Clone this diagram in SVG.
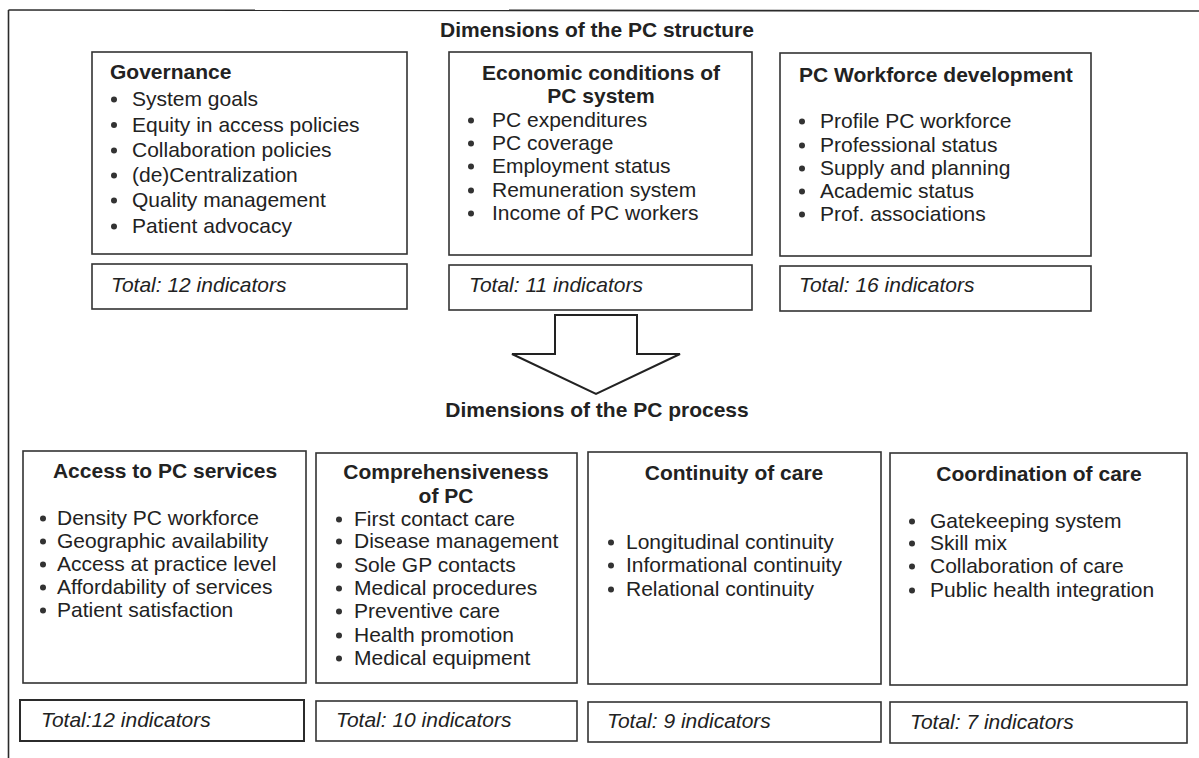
<svg xmlns="http://www.w3.org/2000/svg" width="1199" height="758" viewBox="0 0 1199 758">
<style>
.frame{fill:none;stroke:#2b2b2b;stroke-width:1.6}
.box{fill:#fff;stroke:#333;stroke-width:1.6}
.tbox{fill:#fff;stroke:#2b2b2b;stroke-width:2}
.t{font-family:"Liberation Sans",Arial,sans-serif;font-size:21px;fill:#222}
.b{font-weight:bold}
.i{font-style:italic}
.m{text-anchor:middle}
.dot{fill:#333}
.arrow{fill:#fff;stroke:#222;stroke-width:2;stroke-linejoin:miter}
</style>
<rect width="1199" height="758" fill="#fff"/>
<g id="frame">
<line class="frame" x1="8.5" y1="10" x2="1199" y2="11"/>
<line class="frame" x1="8.5" y1="10" x2="8.5" y2="758"/>
</g>
<text class="t b m" x="597" y="37">Dimensions of the PC structure</text>
<text class="t b m" x="597" y="417">Dimensions of the PC process</text>

<g id="governance">
<rect class="box" x="92" y="52" width="315" height="202"/>
<text class="t b" x="110" y="79">Governance</text>
<g class="dot"><circle cx="114" cy="99.5" r="3"/><circle cx="114" cy="125" r="3"/><circle cx="114" cy="150.5" r="3"/><circle cx="114" cy="175.5" r="3"/><circle cx="114" cy="200.5" r="3"/><circle cx="114" cy="226.5" r="3"/></g>
<text class="t" x="132" y="106">System goals</text>
<text class="t" x="132" y="131.5">Equity in access policies</text>
<text class="t" x="132" y="157">Collaboration policies</text>
<text class="t" x="132" y="182">(de)Centralization</text>
<text class="t" x="132" y="207">Quality management</text>
<text class="t" x="132" y="233">Patient advocacy</text>
</g>
<g id="governance-total">
<rect class="box" x="92" y="264" width="315" height="45"/>
<text class="t i" x="111" y="292">Total: 12 indicators</text>
</g>

<g id="economic">
<rect class="box" x="449" y="52" width="303" height="203"/>
<text class="t b m" x="601" y="80">Economic conditions of</text>
<text class="t b m" x="601" y="103">PC system</text>
<g class="dot"><circle cx="471" cy="120.5" r="3"/><circle cx="471" cy="143.5" r="3"/><circle cx="471" cy="166.5" r="3"/><circle cx="471" cy="190.5" r="3"/><circle cx="471" cy="213.5" r="3"/></g>
<text class="t" x="492" y="127">PC expenditures</text>
<text class="t" x="492" y="150">PC coverage</text>
<text class="t" x="492" y="173">Employment status</text>
<text class="t" x="492" y="197">Remuneration system</text>
<text class="t" x="492" y="220">Income of PC workers</text>
</g>
<g id="economic-total">
<rect class="box" x="449" y="265" width="303" height="45"/>
<text class="t i" x="469" y="292">Total: 11 indicators</text>
</g>

<g id="workforce">
<rect class="box" x="780" y="53" width="311" height="203"/>
<text class="t b" x="799" y="82">PC Workforce development</text>
<g class="dot"><circle cx="802" cy="121.5" r="3"/><circle cx="802" cy="145.5" r="3"/><circle cx="802" cy="168.5" r="3"/><circle cx="802" cy="191.5" r="3"/><circle cx="802" cy="214.5" r="3"/></g>
<text class="t" x="820" y="128">Profile PC workforce</text>
<text class="t" x="820" y="152">Professional status</text>
<text class="t" x="820" y="175">Supply and planning</text>
<text class="t" x="820" y="198">Academic status</text>
<text class="t" x="820" y="221">Prof. associations</text>
</g>
<g id="workforce-total">
<rect class="box" x="780" y="266" width="311" height="45"/>
<text class="t i" x="799" y="292">Total: 16 indicators</text>
</g>

<g id="connectors">
<polygon class="arrow" points="555,315 637,315 637,354 680,354 596,394 512,354 555,354"/>
</g>

<g id="access">
<rect class="box" x="23" y="451" width="283" height="232"/>
<text class="t b m" x="165" y="478">Access to PC services</text>
<g class="dot"><circle cx="43" cy="518.5" r="3"/><circle cx="43" cy="541.5" r="3"/><circle cx="43" cy="564.5" r="3"/><circle cx="43" cy="587.5" r="3"/><circle cx="43" cy="610.5" r="3"/></g>
<text class="t" x="57" y="525">Density PC workforce</text>
<text class="t" x="57" y="548">Geographic availability</text>
<text class="t" x="57" y="571">Access at practice level</text>
<text class="t" x="57" y="594">Affordability of services</text>
<text class="t" x="57" y="617">Patient satisfaction</text>
</g>
<g id="access-total">
<rect class="tbox" x="20" y="700" width="284" height="41"/>
<text class="t i" x="41" y="727">Total:12 indicators</text>
</g>

<g id="comprehensiveness">
<rect class="box" x="316" y="453" width="261" height="230"/>
<text class="t b m" x="446" y="479">Comprehensiveness</text>
<text class="t b m" x="446" y="503">of PC</text>
<g class="dot"><circle cx="339" cy="519.5" r="3"/><circle cx="339" cy="541.5" r="3"/><circle cx="339" cy="565.5" r="3"/><circle cx="339" cy="588.5" r="3"/><circle cx="339" cy="611.5" r="3"/><circle cx="339" cy="635.5" r="3"/><circle cx="339" cy="658.5" r="3"/></g>
<text class="t" x="354" y="526">First contact care</text>
<text class="t" x="354" y="548">Disease management</text>
<text class="t" x="354" y="572">Sole GP contacts</text>
<text class="t" x="354" y="595">Medical procedures</text>
<text class="t" x="354" y="618">Preventive care</text>
<text class="t" x="354" y="642">Health promotion</text>
<text class="t" x="354" y="665">Medical equipment</text>
</g>
<g id="comprehensiveness-total">
<rect class="box" x="316" y="701" width="261" height="40"/>
<text class="t i" x="336" y="727">Total: 10 indicators</text>
</g>

<g id="continuity">
<rect class="box" x="588" y="452" width="293" height="232"/>
<text class="t b m" x="734" y="480">Continuity of care</text>
<g class="dot"><circle cx="611" cy="542.5" r="3"/><circle cx="611" cy="565.5" r="3"/><circle cx="611" cy="589.5" r="3"/></g>
<text class="t" x="626" y="549">Longitudinal continuity</text>
<text class="t" x="626" y="572">Informational continuity</text>
<text class="t" x="626" y="596">Relational continuity</text>
</g>
<g id="continuity-total">
<rect class="box" x="588" y="702" width="293" height="40"/>
<text class="t i" x="607" y="728">Total: 9 indicators</text>
</g>

<g id="coordination">
<rect class="box" x="890" y="453" width="297" height="232"/>
<text class="t b m" x="1039" y="481">Coordination of care</text>
<g class="dot"><circle cx="912" cy="521.5" r="3"/><circle cx="912" cy="543.5" r="3"/><circle cx="912" cy="566.5" r="3"/><circle cx="912" cy="590.5" r="3"/></g>
<text class="t" x="930" y="528">Gatekeeping system</text>
<text class="t" x="930" y="550">Skill mix</text>
<text class="t" x="930" y="573">Collaboration of care</text>
<text class="t" x="930" y="597">Public health integration</text>
</g>
<g id="coordination-total">
<rect class="box" x="890" y="702" width="297" height="41"/>
<text class="t i" x="910" y="729">Total: 7 indicators</text>
</g>
</svg>
